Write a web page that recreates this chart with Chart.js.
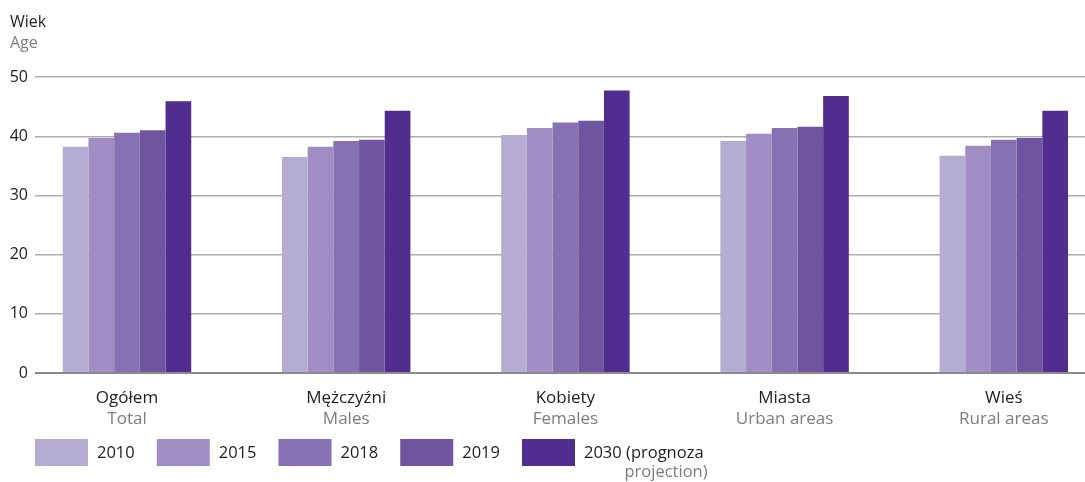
<!DOCTYPE html>
<html>
<head>
<meta charset="utf-8">
<script src="https://cdn.jsdelivr.net/npm/chart.js@4"></script>
<style>
  html, body { margin: 0; padding: 0; background: #fff; overflow: hidden; }
</style>
</head>
<body>
<canvas id="ageChart" width="1085" height="482"></canvas>
<script>
// Median age by group, with 2030 projection
const categoriesPl = ['Ogółem', 'Mężczyźni', 'Kobiety', 'Miasta', 'Wieś'];
const categoriesEn = ['Total', 'Males', 'Females', 'Urban areas', 'Rural areas'];

const seriesLabels = ['2010', '2015', '2018', '2019', '2030 (prognoza'];
const seriesSubLabels = ['', '', '', '', 'projection)'];
const seriesColors = ['#b5acd3', '#a08dc3', '#8671b2', '#6f55a0', '#512d8f'];

const values2010 = [38.2, 36.5, 40.2, 39.2, 36.7];
const values2015 = [39.7, 38.2, 41.4, 40.4, 38.4];
const values2018 = [40.6, 39.2, 42.3, 41.4, 39.4];
const values2019 = [41.0, 39.4, 42.6, 41.6, 39.7];
const values2030 = [45.9, 44.3, 47.7, 46.8, 44.3];

const yTicks = [0, 10, 20, 30, 40, 50];

const allValues = [values2010, values2015, values2018, values2019, values2030];

const FONT = "'Open Sans', 'Noto Sans', sans-serif";
const DARK = '#1d1d1b';
const GREY = '#7d7d7d';

// axis titles, category names and the legend are drawn by hand
const labelsPlugin = {
    id: 'labels',
    afterDraw(chart) {
        const ctx = chart.ctx;
        const xScale = chart.scales.x;
        ctx.save();

        // y axis title
        ctx.textAlign = 'left';
        ctx.textBaseline = 'alphabetic';
        ctx.font = '16px ' + FONT;
        ctx.fillStyle = DARK;
        ctx.fillText('Wiek', 10, 27);
        ctx.fillStyle = GREY;
        ctx.fillText('Age', 10, 48);

        // category labels in two languages
        ctx.textAlign = 'center';
        ctx.font = '17px ' + FONT;
        categoriesPl.forEach((name, i) => {
            const x = xScale.getPixelForValue(i);
            ctx.fillStyle = DARK;
            ctx.fillText(name, x, 403);
            ctx.fillStyle = GREY;
            ctx.fillText(categoriesEn[i], x, 424);
        });

        // legend row
        ctx.font = '16.5px ' + FONT;
        chart.data.datasets.forEach((ds, i) => {
            const bx = 35 + i * 121.75;
            ctx.fillStyle = ds.backgroundColor;
            ctx.fillRect(bx, 439, 53, 27);
            ctx.textAlign = 'left';
            ctx.fillStyle = DARK;
            ctx.fillText(ds.label, bx + 62, 458);
            if (seriesSubLabels[i]) {
                const w = ctx.measureText(ds.label).width;
                ctx.textAlign = 'right';
                ctx.fillStyle = GREY;
                ctx.fillText(seriesSubLabels[i], bx + 62 + w + 4, 477);
            }
        });

        ctx.restore();
    }
};

const chart = new Chart(document.getElementById('ageChart'), {
    type: 'bar',
    data: {
        datasets: seriesLabels.map((label, s) => ({
            label: label,
            data: allValues[s].map((v, i) => ({ x: i, y: v })),
            backgroundColor: seriesColors[s],
            borderWidth: 0,
            categoryPercentage: 0.586,
            barPercentage: 1.0
        }))
    },
    options: {
        responsive: false,
        animation: false,
        events: [],
        layout: { padding: { top: 77, right: 0, left: 0, bottom: 0 } },
        plugins: {
            legend: { display: false },
            tooltip: { enabled: false }
        },
        scales: {
            x: {
                type: 'linear',
                offset: false,
                bounds: 'data',
                min: -0.4197,
                max: 4.3704,
                grid: { display: false, offset: false },
                border: { display: false },
                ticks: { display: false },
                afterBuildTicks: (scale) => {
                    scale.ticks = categoriesPl.map((_, i) => ({ value: i }));
                },
                afterFit: (scale) => { scale.height = 109; }
            },
            y: {
                min: 0,
                max: 50,
                border: { display: false },
                afterBuildTicks: (scale) => {
                    scale.ticks = yTicks.map(v => ({ value: v }));
                },
                afterFit: (scale) => { scale.width = 35; },
                grid: {
                    drawTicks: false,
                    color: (c) => (c.tick && c.tick.value === 0 ? '#8a8a8a' : '#adadad'),
                    lineWidth: (c) => (c.tick && c.tick.value === 0 ? 2 : 1.4)
                },
                ticks: {
                    padding: 7,
                    color: DARK,
                    font: { family: FONT, size: 16 }
                }
            }
        }
    },
    plugins: [labelsPlugin]
});
</script>
</body>
</html>
